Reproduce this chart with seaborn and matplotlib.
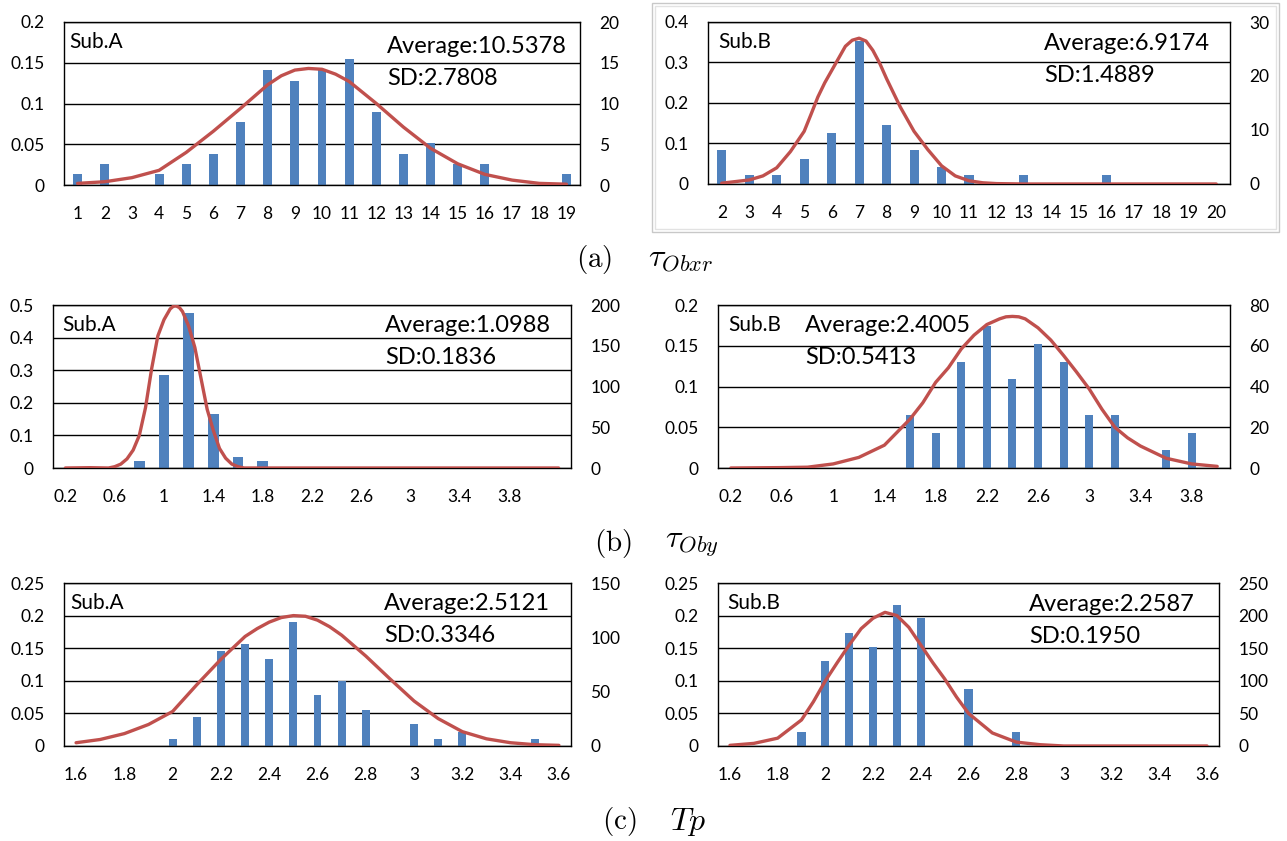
import matplotlib.pyplot as plt
import matplotlib.patches as patches
import seaborn as sns

W, H = 1287, 841
BAR = "#4F81BD"
CURVE = "#C0504D"

# (a) tau_Obxr -- Sub.A
OBXR_A_X = [1, 2, 3, 4, 5, 6, 7, 8, 9, 10, 11, 12, 13, 14, 15, 16, 17, 18, 19]
OBXR_A_P = [0.013, 0.026, 0, 0.013, 0.026, 0.038, 0.077, 0.141, 0.128, 0.141,
            0.154, 0.090, 0.038, 0.051, 0.026, 0.026, 0, 0, 0.013]
OBXR_A_CX = [1, 2, 3, 4, 5, 6, 7, 8, 8.5, 9, 9.5, 10, 10.5, 11, 12, 13, 14, 15,
             16, 17, 18, 19]
OBXR_A_CY = [0.002, 0.004, 0.009, 0.018, 0.040, 0.066, 0.094, 0.123, 0.134, 0.141,
             0.143, 0.142, 0.136, 0.127, 0.100, 0.071, 0.045, 0.026, 0.013, 0.006,
             0.002, 0.001]

# (a) tau_Obxr -- Sub.B
OBXR_B_X = [2, 3, 4, 5, 6, 7, 8, 9, 10, 11, 12, 13, 14, 15, 16, 17, 18, 19, 20]
OBXR_B_P = [0.083, 0.021, 0.021, 0.0625, 0.125, 0.354, 0.146, 0.083, 0.042, 0.021,
            0, 0.021, 0, 0, 0.021, 0, 0, 0, 0]
OBXR_B_CX = [2, 3, 3.5, 4, 4.5, 5, 5.25, 5.5, 5.75, 6, 6.25, 6.5, 6.75, 7, 7.25,
             7.5, 7.75, 8, 8.25, 8.5, 8.75, 9, 9.5, 10, 10.5, 11, 11.5, 12, 13, 20]
OBXR_B_CY = [0.002, 0.010, 0.020, 0.040, 0.080, 0.130, 0.172, 0.215, 0.250, 0.280,
             0.310, 0.340, 0.355, 0.360, 0.353, 0.330, 0.298, 0.260, 0.225, 0.190,
             0.160, 0.130, 0.085, 0.045, 0.020, 0.008, 0.003, 0.001, 0, 0]

# (b) tau_Oby -- Sub.A
OBY_A_X = [0.2, 0.4, 0.6, 0.8, 1.0, 1.2, 1.4, 1.6, 1.8, 2.0, 2.2, 2.4, 2.6, 2.8,
           3.0, 3.2, 3.4, 3.6, 3.8, 4.0, 4.2]
OBY_A_P = [0, 0, 0, 0.022, 0.286, 0.476, 0.165, 0.034, 0.022, 0, 0, 0, 0, 0,
           0, 0, 0, 0, 0, 0, 0]
OBY_A_CX = [0.2, 0.4, 0.55, 0.6, 0.65, 0.7, 0.75, 0.8, 0.85, 0.9, 0.95, 1.0, 1.05,
            1.075, 1.1, 1.125, 1.15, 1.2, 1.25, 1.3, 1.35, 1.4, 1.45, 1.5, 1.55,
            1.6, 1.65, 4.2]
OBY_A_CY = [0, 0.001, 0, 0.004, 0.012, 0.028, 0.055, 0.100, 0.185, 0.305, 0.405,
            0.455, 0.488, 0.496, 0.497, 0.492, 0.480, 0.435, 0.370, 0.275, 0.180,
            0.115, 0.060, 0.030, 0.012, 0.004, 0, 0]

# (b) tau_Oby -- Sub.B
OBY_B_X = [0.2, 0.4, 0.6, 0.8, 1.0, 1.2, 1.4, 1.6, 1.8, 2.0, 2.2, 2.4, 2.6, 2.8,
           3.0, 3.2, 3.4, 3.6, 3.8, 4.0]
OBY_B_P = [0, 0, 0, 0, 0, 0, 0, 0.065, 0.0435, 0.130, 0.174, 0.109, 0.152, 0.130,
           0.065, 0.065, 0, 0.0217, 0.0435, 0]
OBY_B_CX = [0.2, 0.6, 0.8, 1.0, 1.2, 1.4, 1.5, 1.6, 1.7, 1.8, 1.9, 2.0, 2.1, 2.2,
            2.3, 2.35, 2.4, 2.45, 2.5, 2.6, 2.7, 2.8, 2.9, 3.0, 3.1, 3.2, 3.3, 3.4,
            3.6, 3.8, 4.0]
OBY_B_CY = [0, 0.0005, 0.001, 0.005, 0.013, 0.028, 0.044, 0.060, 0.080, 0.105,
            0.123, 0.146, 0.163, 0.176, 0.183, 0.1855, 0.186, 0.1855, 0.183, 0.172,
            0.157, 0.138, 0.118, 0.097, 0.072, 0.050, 0.037, 0.027, 0.012, 0.005,
            0.002]

# (c) Tp -- Sub.A
TP_A_X = [1.6, 1.7, 1.8, 1.9, 2.0, 2.1, 2.2, 2.3, 2.4, 2.5, 2.6, 2.7, 2.8, 2.9,
          3.0, 3.1, 3.2, 3.3, 3.4, 3.5, 3.6]
TP_A_P = [0, 0, 0, 0, 0.0105, 0.0445, 0.145, 0.156, 0.134, 0.190, 0.078, 0.100,
          0.0557, 0, 0.0335, 0.0105, 0.022, 0, 0, 0.0105, 0]
TP_A_CX = [1.6, 1.7, 1.8, 1.9, 2.0, 2.1, 2.2, 2.3, 2.35, 2.4, 2.45, 2.5, 2.55,
           2.6, 2.65, 2.7, 2.8, 2.9, 3.0, 3.1, 3.2, 3.3, 3.4, 3.5, 3.6]
TP_A_CY = [0.005, 0.010, 0.019, 0.033, 0.053, 0.094, 0.133, 0.168, 0.180, 0.190,
           0.197, 0.200, 0.199, 0.193, 0.183, 0.170, 0.138, 0.103, 0.069, 0.042,
           0.022, 0.011, 0.005, 0.002, 0.001]

# (c) Tp -- Sub.B
TP_B_X = TP_A_X
TP_B_P = [0, 0, 0, 0.0217, 0.130, 0.174, 0.152, 0.217, 0.196, 0, 0.087, 0, 0.0217,
          0, 0, 0, 0, 0, 0, 0, 0]
TP_B_CX = [1.6, 1.7, 1.8, 1.9, 1.95, 2.0, 2.05, 2.1, 2.15, 2.2, 2.25, 2.3, 2.35,
           2.4, 2.45, 2.5, 2.55, 2.6, 2.7, 2.8, 2.9, 3.0, 3.6]
TP_B_CY = [0.001, 0.004, 0.012, 0.040, 0.068, 0.100, 0.128, 0.155, 0.180, 0.196,
           0.205, 0.200, 0.182, 0.155, 0.128, 0.103, 0.075, 0.050, 0.020, 0.006,
           0.002, 0, 0]

OBXR_TICKS_A = OBXR_A_X
OBXR_TICKS_B = OBXR_B_X
OBY_TICKS = [0.2, 0.6, 1.0, 1.4, 1.8, 2.2, 2.6, 3.0, 3.4, 3.8]
TP_TICKS = [1.6, 1.8, 2.0, 2.2, 2.4, 2.6, 2.8, 3.0, 3.2, 3.4, 3.6]

STATS = {
    "obxr_a": ("Sub.A", "Average:10.5378", "SD:2.7808"),
    "obxr_b": ("Sub.B", "Average:6.9174", "SD:1.4889"),
    "oby_a": ("Sub.A", "Average:1.0988", "SD:0.1836"),
    "oby_b": ("Sub.B", "Average:2.4005", "SD:0.5413"),
    "tp_a": ("Sub.A", "Average:2.5121", "SD:0.3346"),
    "tp_b": ("Sub.B", "Average:2.2587", "SD:0.1950"),
}

# key, x, p, curve x, curve y, step, xticks, left ticks, right ticks, bar width,
# plot box in px (left, top, right, bottom), text anchors (sub x, stat x, stat top)
PANELS = [
    ("obxr_a", OBXR_A_X, OBXR_A_P, OBXR_A_CX, OBXR_A_CY, 1, OBXR_TICKS_A,
     [0, 0.05, 0.1, 0.15, 0.2], [0, 5, 10, 15, 20], 0.33,
     (64, 22, 580, 185), (69, 387, 36)),
    ("obxr_b", OBXR_B_X, OBXR_B_P, OBXR_B_CX, OBXR_B_CY, 1, OBXR_TICKS_B,
     [0, 0.1, 0.2, 0.3, 0.4], [0, 10, 20, 30], 0.33,
     (708, 22, 1230, 184), (718, 1044, 33)),
    ("oby_a", OBY_A_X, OBY_A_P, OBY_A_CX, OBY_A_CY, 0.2, OBY_TICKS,
     [0, 0.1, 0.2, 0.3, 0.4, 0.5], [0, 50, 100, 150, 200], 0.42,
     (53, 305, 571, 468), (62, 385, 315)),
    ("oby_b", OBY_B_X, OBY_B_P, OBY_B_CX, OBY_B_CY, 0.2, OBY_TICKS,
     [0, 0.05, 0.1, 0.15, 0.2], [0, 20, 40, 60, 80], 0.32,
     (718, 305, 1230, 468), (728, 805, 315)),
    ("tp_a", TP_A_X, TP_A_P, TP_A_CX, TP_A_CY, 0.1, TP_TICKS,
     [0, 0.05, 0.1, 0.15, 0.2, 0.25], [0, 50, 100, 150], 0.33,
     (64, 583, 571, 746), (70, 384, 593)),
    ("tp_b", TP_B_X, TP_B_P, TP_B_CX, TP_B_CY, 0.1, TP_TICKS,
     [0, 0.05, 0.1, 0.15, 0.2, 0.25], [0, 50, 100, 150, 200, 250], 0.34,
     (718, 583, 1219, 746), (727, 1029, 594)),
]

# caption: label x, centre y, label, symbol x, symbol
CAPTIONS = [
    (576, 259, r"$\mathrm{(a)}$", 648, r"$\tau_{Obxr}$"),
    (594, 544, r"$\mathrm{(b)}$", 665, r"$\tau_{Oby}$"),
    (602, 822, r"$\mathrm{(c)}$", 670, r"$Tp$"),
]

plt.rcParams["font.family"] = ["Lato", "DejaVu Sans"]
plt.rcParams["mathtext.fontset"] = "cm"


def fmt(v):
    return f"{v:g}"


fig = plt.figure(figsize=(W / 100, H / 100), dpi=100)

# light frame around the upper-right chart
for off, col in [(0, "#c8c8c8"), (3, "#e2e2e2")]:
    fig.patches.append(patches.Rectangle(
        ((652 + off) / W, 1 - (232 - off) / H), (627 - 2 * off) / W, (229 - 2 * off) / H,
        transform=fig.transFigure, fill=False, edgecolor=col, lw=1))

for (key, xs, ps, cx, cy, step, xticks, lticks, rticks, bw,
     box, anchors) in PANELS:
    l, t, r, b = box
    ax = fig.add_axes([l / W, 1 - b / H, (r - l) / W, (b - t) / H])
    sns.barplot(x=xs, y=ps, native_scale=True, orient="x", width=bw, color=BAR,
                saturation=1, errorbar=None, ax=ax, zorder=2)
    sns.lineplot(x=cx, y=cy, color=CURVE, lw=2.4, ax=ax, zorder=3,
                 solid_joinstyle="round", solid_capstyle="round")
    ax.set_xlim(xs[0] - step / 2, xs[-1] + step / 2)
    ax.set_ylim(lticks[0], lticks[-1])
    ax.set_yticks(lticks, [fmt(v) for v in lticks])
    ax.set_xticks(xticks, [fmt(v) for v in xticks])
    ax.yaxis.grid(True, color="black", lw=1)
    ax.set_axisbelow(True)
    ax.tick_params(length=0, labelsize=12.5, pad=14)
    ax.tick_params(axis="x", pad=15)
    for s in ax.spines.values():
        s.set_color("black")
        s.set_linewidth(1)
    ax.set_xlabel("")
    ax.set_ylabel("")

    ax2 = ax.twinx()
    ax2.set_ylim(rticks[0], rticks[-1])
    ax2.set_yticks(rticks, [fmt(v) for v in rticks])
    ax2.tick_params(length=0, labelsize=12.5, pad=14)
    for s in ax2.spines.values():
        s.set_visible(False)

    sub, avg, sd = STATS[key]
    sx, ax_x, top = anchors
    fig.text(sx / W, 1 - (t + 10) / H, sub, fontsize=15, va="top")
    fig.text(ax_x / W, 1 - top / H, avg, fontsize=17, va="top")
    fig.text(ax_x / W, 1 - (top + 32) / H, sd, fontsize=17, va="top")

for px, py, lab, tx, sym in CAPTIONS:
    fig.text(px / W, 1 - py / H, lab, fontsize=21, va="center")
    fig.text(tx / W, 1 - py / H, sym, fontsize=23, va="center")

fig.savefig("out.png", dpi=100)
